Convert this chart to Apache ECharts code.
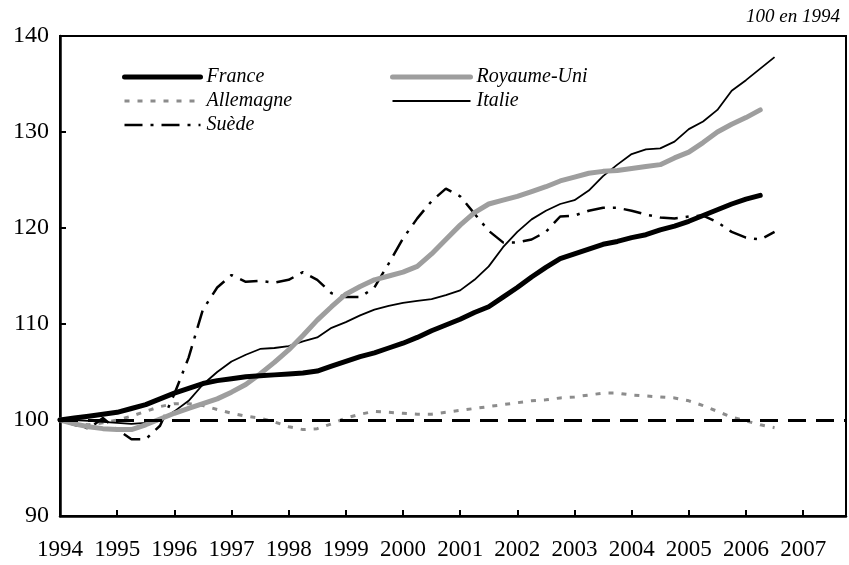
<!DOCTYPE html>
<html>
<head>
<meta charset="utf-8">
<script src="https://cdn.jsdelivr.net/npm/echarts@6/dist/echarts.min.js"></script>
<style>
  html, body { margin: 0; padding: 0; background: #fff; }
  #chart { width: 849px; height: 565px; }
</style>
</head>
<body>
<div id="chart"></div>
<script>
// trimestres 1994T1 .. 2007T4, étiquette = année au 1er trimestre
var years = ['1994', '1995', '1996', '1997', '1998', '1999', '2000',
  '2001', '2002', '2003', '2004', '2005', '2006', '2007'];
var quarters = [];
years.forEach(function (y) {
  quarters.push(y + 'T1', y + 'T2', y + 'T3', y + 'T4');
});

var france = [100, 100.2, 100.4, 100.6, 100.8, 101.2, 101.6, 102.2, 102.8, 103.3,
  103.8, 104.1, 104.3, 104.5, 104.6, 104.7, 104.8, 104.9, 105.1, 105.6,
  106.1, 106.6, 107.0, 107.5, 108.0, 108.6, 109.3, 109.9, 110.5, 111.2,
  111.8, 112.8, 113.8, 114.9, 115.9, 116.8, 117.3, 117.8, 118.3, 118.6,
  119.0, 119.3, 119.8, 120.2, 120.7, 121.3, 121.9, 122.5, 123.0, 123.4];

var royaumeUni = [100, 99.6, 99.3, 99.1, 99.0, 99.0, 99.5, 100.1, 100.7, 101.2,
  101.7, 102.2, 102.9, 103.7, 104.8, 106.0, 107.3, 108.8, 110.4, 111.8,
  113.1, 113.9, 114.6, 115.0, 115.4, 116.0, 117.3, 118.8, 120.3, 121.6,
  122.5, 122.9, 123.3, 123.8, 124.3, 124.9, 125.3, 125.7, 125.9, 126.0,
  126.2, 126.4, 126.6, 127.3, 127.9, 128.9, 130.0, 130.8, 131.5, 132.3];

var allemagne = [100, 99.7, 99.5, 99.7, 100.0, 100.4, 100.9, 101.4, 101.7, 101.7,
  101.5, 101.1, 100.7, 100.4, 100.2, 99.8, 99.3, 99.0, 99.1, 99.6,
  100.2, 100.6, 100.9, 100.8, 100.7, 100.6, 100.6, 100.8, 101.0, 101.2,
  101.4, 101.6, 101.8, 102.0, 102.1, 102.3, 102.4, 102.6, 102.8, 102.8,
  102.6, 102.5, 102.4, 102.3, 102.0, 101.5, 100.9, 100.3, 99.9, 99.5, 99.2];

var italie = [100, 100.0, 99.9, 99.8, 99.7, 99.6, 99.7, 99.9, 100.9, 102.0,
  103.7, 105.0, 106.1, 106.8, 107.4, 107.5, 107.7, 108.2, 108.6, 109.6,
  110.2, 110.9, 111.5, 111.9, 112.2, 112.4, 112.6, 113.0, 113.5, 114.6,
  116.0, 118.0, 119.6, 120.9, 121.8, 122.5, 122.9, 123.9, 125.4, 126.6,
  127.7, 128.2, 128.3, 129.0, 130.3, 131.1, 132.3, 134.3, 135.4, 136.6, 137.8];

var suede = [100, 99.5, 99.1, 100.2, 99.0, 98.0, 98.0, 99.4, 102.7, 106.5,
  111.5, 113.8, 115.1, 114.4, 114.5, 114.3, 114.6, 115.4, 114.6, 113.2,
  112.8, 112.8, 113.8, 116.3, 118.9, 121.0, 122.8, 124.1, 123.3, 121.5,
  119.7, 118.5, 118.5, 118.8, 119.6, 121.2, 121.3, 121.8, 122.1, 122.1,
  121.8, 121.4, 121.1, 121.0, 121.2, 121.3, 120.6, 119.6, 119.0, 118.8, 119.6];

var serif = '"Liberation Serif", "Times New Roman", serif';

// styles des traits (séries et légende)
var styles = {
  'France': { color: '#000', width: 5, type: 'solid', cap: 'round' },
  'Royaume-Uni': { color: '#9e9e9e', width: 5, type: 'solid', cap: 'round' },
  'Allemagne': { color: '#8c8c8c', width: 3, type: [5, 8] },
  'Italie': { color: '#000', width: 1.8, type: 'solid' },
  'Suède': { color: '#000', width: 2.5, type: [18, 8, 3, 8] }
};

function legendItem(name) {
  return { name: name, lineStyle: styles[name], itemStyle: { opacity: 0 } };
}

var legendText = { fontFamily: serif, fontStyle: 'italic', fontSize: 20, lineHeight: 20, color: '#000', padding: [0, 0, 0, 1] };

var chart = echarts.init(document.getElementById('chart'));
chart.setOption({
  animation: false,
  backgroundColor: '#fff',
  title: {
    text: '100 en 1994',
    right: 4,
    top: 2,
    textStyle: { fontFamily: serif, fontStyle: 'italic', fontWeight: 'normal', fontSize: 19, color: '#000' }
  },
  legend: [{
    data: ['France', 'Allemagne', 'Suède'].map(legendItem),
    orient: 'vertical',
    left: 117,
    top: 62,
    itemWidth: 76,
    itemHeight: 14,
    itemGap: 4,
    textStyle: legendText
  }, {
    data: ['Royaume-Uni', 'Italie'].map(legendItem),
    orient: 'vertical',
    left: 385,
    top: 62,
    itemWidth: 78,
    itemHeight: 14,
    itemGap: 4,
    textStyle: legendText
  }],
  grid: {
    left: 60, right: 3, top: 36, bottom: 49,
    show: true, borderColor: '#000', borderWidth: 2
  },
  xAxis: {
    type: 'category',
    data: quarters,
    boundaryGap: false,
    axisLine: { lineStyle: { color: '#000', width: 2.5 } },
    axisTick: { inside: true, length: 6, interval: 3, lineStyle: { color: '#000', width: 2 } },
    axisLabel: {
      interval: 3,
      margin: 22,
      color: '#000',
      fontFamily: serif,
      fontSize: 23,
      formatter: function (v) { return v.slice(0, 4); }
    },
    splitLine: { show: false }
  },
  yAxis: {
    type: 'value',
    min: 90,
    max: 140,
    interval: 10,
    axisLine: { show: true, lineStyle: { color: '#000', width: 2.5 } },
    axisTick: { show: true, inside: true, length: 6, lineStyle: { color: '#000', width: 2 } },
    axisLabel: { margin: 11, color: '#000', fontFamily: serif, fontSize: 24 },
    splitLine: { show: false }
  },
  series: [{
    name: 'Allemagne',
    type: 'line',
    data: allemagne,
    symbol: 'none',
    lineStyle: styles['Allemagne'],
    itemStyle: { color: '#8c8c8c' }
  }, {
    name: 'Suède',
    type: 'line',
    data: suede,
    symbol: 'none',
    lineStyle: styles['Suède'],
    itemStyle: { color: '#000' }
  }, {
    name: 'Italie',
    type: 'line',
    data: italie,
    symbol: 'none',
    lineStyle: styles['Italie'],
    itemStyle: { color: '#000' }
  }, {
    name: 'Royaume-Uni',
    type: 'line',
    data: royaumeUni,
    symbol: 'none',
    lineStyle: styles['Royaume-Uni'],
    itemStyle: { color: '#9e9e9e' }
  }, {
    name: 'France',
    type: 'line',
    data: france,
    symbol: 'none',
    lineStyle: styles['France'],
    itemStyle: { color: '#000' },
    markLine: {
      silent: true,
      symbol: 'none',
      label: { show: false },
      lineStyle: { color: '#000', width: 3, type: [18, 10] },
      data: [{ yAxis: 100 }]
    }
  }]
});
</script>
</body>
</html>
